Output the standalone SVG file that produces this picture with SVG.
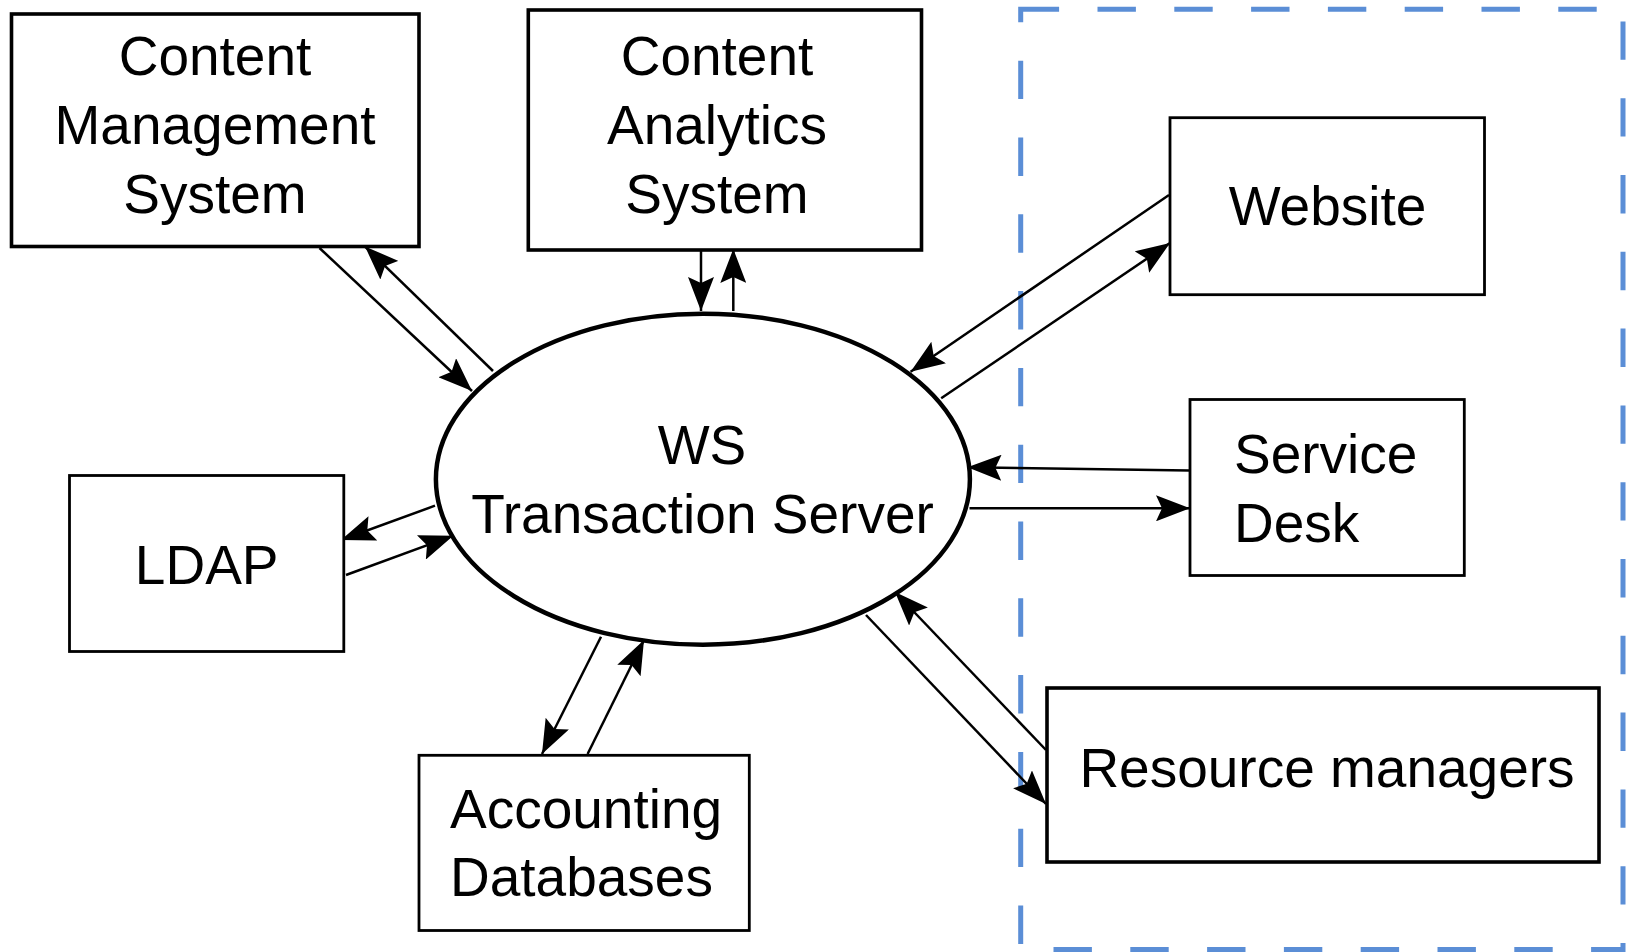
<svg xmlns="http://www.w3.org/2000/svg" width="1631" height="952" viewBox="0 0 1631 952">
  <style>
    .box { fill: #ffffff; stroke: #000000; }
    .thick { stroke-width: 3.6; }
    .thin { stroke-width: 2.8; }
    .lbl { font-family: "Liberation Sans", Arial, sans-serif; font-size: 55px; fill: #000000; }
    .mid { text-anchor: middle; }
    .conn { stroke: #000000; stroke-width: 2.5; fill: none; marker-end: url(#arrow); }
  </style>
  <defs>
    <marker id="arrow" markerUnits="userSpaceOnUse" viewBox="0 0 34 26" markerWidth="34" markerHeight="26" refX="34" refY="13" orient="auto">
      <path d="M0,0 L34,13 L0,26 L6,13 Z" fill="#000000"/>
    </marker>
  </defs>

  <rect width="1631" height="952" fill="#ffffff"/>

  <!-- external zone boundary -->
  <g id="external-zone">
    <rect x="1020.7" y="9.3" width="602.3" height="940.2" fill="none" stroke="#5b8ed6" stroke-width="5" stroke-dasharray="38.4 38.4"/>
  </g>

  <!-- connectors -->
  <g id="connectors">
    <line class="conn" x1="319.5" y1="248" x2="472" y2="391"/>
    <line class="conn" x1="493" y1="371" x2="365" y2="246.5"/>
    <line class="conn" x1="701" y1="251" x2="701" y2="311"/>
    <line class="conn" x1="733.3" y1="311" x2="733.3" y2="249"/>
    <line class="conn" x1="1169" y1="195" x2="910.6" y2="371.7"/>
    <line class="conn" x1="941.2" y1="398.3" x2="1170" y2="243"/>
    <line class="conn" x1="1189" y1="470.5" x2="967.4" y2="467.3"/>
    <line class="conn" x1="969.5" y1="508.3" x2="1190" y2="508.3"/>
    <line class="conn" x1="1046" y1="750" x2="895" y2="592"/>
    <line class="conn" x1="866" y1="615" x2="1046" y2="804"/>
    <line class="conn" x1="601" y1="636.7" x2="542" y2="754"/>
    <line class="conn" x1="587.6" y1="754" x2="644" y2="640"/>
    <line class="conn" x1="435" y1="505.7" x2="341" y2="540"/>
    <line class="conn" x1="346" y1="575" x2="453.3" y2="535.7"/>
  </g>

  <g id="ws-transaction-server">
    <ellipse cx="702.9" cy="479.2" rx="267" ry="165.5" fill="#ffffff" stroke="#000000" stroke-width="4.5"/>
    <text class="lbl mid" x="702" y="464">WS</text>
    <text class="lbl mid" x="702.5" y="533.3">Transaction Server</text>
  </g>

  <g id="content-management-system">
    <rect class="box thick" x="11.5" y="14" width="407.5" height="232.5"/>
    <text class="lbl mid" x="215" y="75">Content</text>
    <text class="lbl mid" x="215" y="144">Management</text>
    <text class="lbl mid" x="215" y="213">System</text>
  </g>

  <g id="content-analytics-system">
    <rect class="box thick" x="528.3" y="10" width="393.2" height="240"/>
    <text class="lbl mid" x="717" y="75">Content</text>
    <text class="lbl mid" x="717" y="144">Analytics</text>
    <text class="lbl mid" x="717" y="213">System</text>
  </g>

  <g id="website">
    <rect class="box thin" x="1170" y="117.7" width="314.5" height="177"/>
    <text class="lbl mid" x="1327.5" y="225">Website</text>
  </g>

  <g id="service-desk">
    <rect class="box thin" x="1190" y="399.5" width="274.3" height="176"/>
    <text class="lbl" x="1234" y="472.7">Service</text>
    <text class="lbl" x="1234" y="541.7">Desk</text>
  </g>

  <g id="resource-managers">
    <rect class="box thick" x="1047" y="688" width="552" height="174"/>
    <text class="lbl mid" x="1327" y="786.7">Resource managers</text>
  </g>

  <g id="ldap">
    <rect class="box thin" x="69.5" y="475.5" width="274.3" height="176"/>
    <text class="lbl mid" x="206.7" y="584">LDAP</text>
  </g>

  <g id="accounting-databases">
    <rect class="box thin" x="419" y="755.3" width="330.3" height="175.2"/>
    <text class="lbl" x="450" y="828.3">Accounting</text>
    <text class="lbl" x="450" y="896">Databases</text>
  </g>
</svg>
